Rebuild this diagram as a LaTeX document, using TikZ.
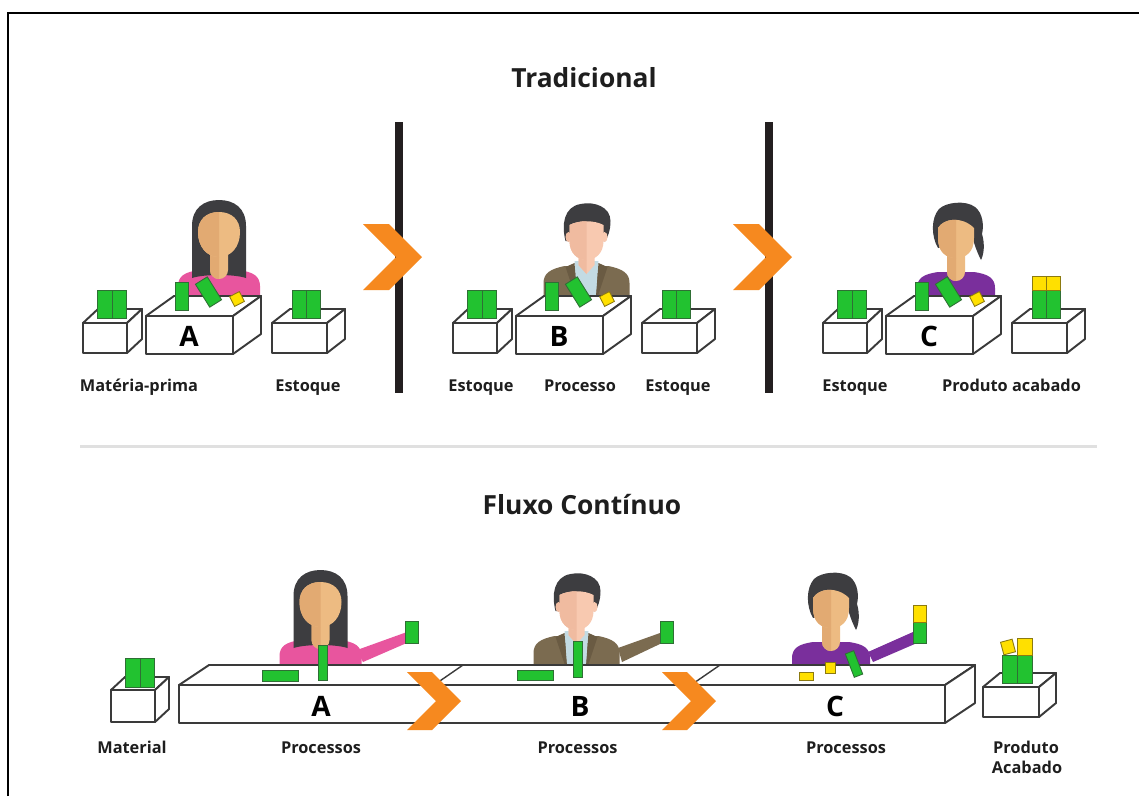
\documentclass[tikz,border=0pt]{standalone}
\usepackage{fontspec}
\setmainfont{Open Sans}

\definecolor{ink}{HTML}{1E1E1E}
\definecolor{edge}{HTML}{3A3A3A}
\definecolor{grn}{HTML}{22C230}
\definecolor{grnb}{HTML}{2F6F35}
\definecolor{ylw}{HTML}{FFE000}
\definecolor{ylwb}{HTML}{8C7A10}
\definecolor{orng}{HTML}{F6891F}
\definecolor{barc}{HTML}{231F20}
\definecolor{sepc}{HTML}{E0E0E0}
\definecolor{hair}{HTML}{3D3D40}
\definecolor{skinL}{HTML}{EDBB82}
\definecolor{skinD}{HTML}{E2AA72}
\definecolor{mskinL}{HTML}{F8C9B0}
\definecolor{mskinD}{HTML}{F0BBA0}
\definecolor{pinkc}{HTML}{E8559E}
\definecolor{purp}{HTML}{7A2F9C}
\definecolor{jacket}{HTML}{7B6B50}
\definecolor{lapel}{HTML}{6A5B43}
\definecolor{shirt}{HTML}{C3DBE3}

% face / neck outlines, relative to the top of the head
\newcommand\wfacepath{(0,12) .. controls (13,12) and (21,20) .. (21,32) .. controls (21,47) and (12,57) .. (0,57) .. controls (-12,57) and (-21,47) .. (-21,32) .. controls (-21,20) and (-13,12) .. (0,12) -- cycle}
\newcommand\mfacepath{(-17,22) .. controls (-8,17) and (8,17) .. (17,22) -- (17,38) .. controls (17,50) and (9,57) .. (0,57) .. controls (-9,57) and (-17,50) .. (-17,38) -- cycle}
\newcommand\bfacepath{(-18,26) .. controls (-12,16) and (6,14) .. (18,26) -- (18,36) .. controls (18,50) and (10,56) .. (0,56) .. controls (-10,56) and (-18,50) .. (-18,36) -- cycle}
\newcommand\wneck{(-9,40) -- (9,40) -- (9,70) .. controls (9,75) and (5,79) .. (0,79) .. controls (-5,79) and (-9,75) .. (-9,70) -- cycle}
\newcommand\mneck{(-8,44) -- (8,44) -- (8,62) -- (0,71) -- (-8,62) -- cycle}

% fill a path in a light tone, its left half in a darker tone
\newcommand\twotone[3]{%
  \fill[#2] #1;
  \begin{scope}\clip (-50,-10) rectangle (0,130); \fill[#3] #1; \end{scope}}

% woman with long hair: x, y (top of head), shirt colour
\newcommand\womanlong[3]{%
  \begin{scope}[shift={(#1,#2)}]
    \fill[#3] (-41,110) -- (-41,86) .. controls (-41,76) and (-34,72) .. (-20,70) -- (20,70) .. controls (34,72) and (41,76) .. (41,86) -- (41,110) -- cycle;
    \fill[hair] (-27,78) -- (-27,26) .. controls (-27,8) and (-15,0) .. (0,0) .. controls (15,0) and (27,8) .. (27,26) -- (27,78) .. controls (15,74) and (-15,74) .. cycle;
    \twotone{\wneck}{skinL}{skinD}
    \twotone{\wfacepath}{skinL}{skinD}
  \end{scope}}

% man in a jacket: x, y (top of head)
\newcommand\manfig[2]{%
  \begin{scope}[shift={(#1,#2)}]
    \fill[jacket] (-43,105) -- (-43,80) .. controls (-43,70) and (-36,66) .. (-22,63) -- (22,63) .. controls (36,66) and (43,70) .. (43,80) -- (43,105) -- cycle;
    \fill[shirt] (-12,58) -- (12,58) -- (9,105) -- (-9,105) -- cycle;
    \fill[lapel] (-12,60) -- (-21,64) -- (-9,100) -- cycle;
    \fill[lapel] (12,60) -- (21,64) -- (9,100) -- cycle;
    \twotone{\mneck}{mskinL}{mskinD}
    \fill[hair] (-21,38) .. controls (-25,22) and (-23,4) .. (-6,1) .. controls (8,-2) and (24,4) .. (24,18) .. controls (24,28) and (21,34) .. (19,38) -- cycle;
    \fill[mskinD] (-18,34) ellipse [x radius=3, y radius=5];
    \fill[mskinL] (18,34) ellipse [x radius=3, y radius=5];
    \twotone{\mfacepath}{mskinL}{mskinD}
  \end{scope}}

% woman with tied-back hair: x, y (top of head), shirt colour
\newcommand\womanbun[3]{%
  \begin{scope}[shift={(#1,#2)}]
    \fill[#3] (-39,110) -- (-39,86) .. controls (-39,76) and (-32,72) .. (-18,70) -- (18,70) .. controls (32,72) and (39,76) .. (39,86) -- (39,110) -- cycle;
    \fill[hair] (-18,46) .. controls (-25,34) and (-25,16) .. (-17,7) .. controls (-10,0) and (10,-2) .. (19,5) .. controls (27,11) and (28,24) .. (26,32) .. controls (29,42) and (28,52) .. (25,58) .. controls (21,50) and (18,42) .. (17,36) -- cycle;
    \twotone{\wneck}{skinL}{skinD}
    \twotone{\bfacepath}{skinL}{skinD}
  \end{scope}}

% open box: front rectangle corners, depth offset
\newcommand\isobox[6]{%
  \draw[boxline] (#1,#2) -- ({#1+#5},{#2-#6}) -- ({#3+#5},{#2-#6}) -- (#3,#2) -- cycle;
  \draw[boxline] (#3,#2) -- ({#3+#5},{#2-#6}) -- ({#3+#5},{#4-#6}) -- (#3,#4) -- cycle;
  \draw[boxline] (#1,#2) rectangle (#3,#4);}

% flow chevron: left x, top y, height, arm width
\newcommand\chevshape[4]{%
  \fill[orng] (#1,#2) -- ({#1+#4},#2) -- ({#1+#4+#3/2},{#2+#3/2}) -- ({#1+#4},{#2+#3}) -- (#1,{#2+#3}) -- ({#1+#3/2},{#2+#3/2}) -- cycle;}

% one station of the traditional line (boxes and parts)
\newcommand\station[1]{%
  \isobox{83}{323}{127}{353}{15}{14}
  \isobox{146}{316}{233}{354}{28}{20}
  \isobox{272}{323}{327}{353}{18}{14}
  \draw[gblock] (97,290) rectangle (112,318);
  \draw[gblock] (112,290) rectangle (126,318);
  \draw[gblock] (175,282) rectangle (188,310);
  \draw[gblock, rotate around={32:(208.5,292)}] (201.5,278.5) rectangle (215.5,305.5);
  \draw[yblock, rotate around={27:(237,299)}] (231.5,293.5) rectangle (242.5,304.5);
  \node[letter] (st#1) at (189,346.5) {#1};}

\begin{document}
\begin{tikzpicture}[x=0.02cm,y=-0.02cm,
  boxline/.style={draw=edge,line width=1.1pt,fill=white,line join=round},
  gblock/.style={fill=grn,draw=grnb,line width=0.5pt},
  yblock/.style={fill=ylw,draw=ylwb,line width=0.5pt},
  lbl/.style={font=\fontsize{9.3}{11}\selectfont\bfseries,text=ink,inner sep=0pt,anchor=base},
  ttl/.style={font=\fontsize{15}{18}\selectfont\bfseries,text=ink,inner sep=0pt,anchor=base},
  letter/.style={font=\fontsize{16}{18}\selectfont\bfseries,text=black,inner sep=0pt,anchor=base}]
\useasboundingbox (0,0) rectangle (1139,796);
\fill[white] (0,0) rectangle (1139,796);

% frame
\draw[black, line width=1.5pt] (8,796) -- (8,13) -- (1139,13);

% ---------- traditional layout ----------
\node[ttl] (title1) at (584,87) {Tradicional};

\draw[barc, line width=4.2pt] (399,122) -- (399,393);
\draw[barc, line width=4.2pt] (769,122) -- (769,393);

\womanlong{219}{200}{pinkc}
\manfig{586.5}{203}
\womanbun{956}{202}{purp}

\begin{scope}\station{A}\end{scope}
\begin{scope}[shift={(370,0)}]\station{B}
  \draw[gblock] (292,290) rectangle (306,318);
  \draw[gblock] (306,290) rectangle (320,318);
\end{scope}
\begin{scope}[shift={(740,0)}]\station{C}
  \draw[gblock] (292,290) rectangle (306,318);
  \draw[gblock] (306,290) rectangle (320,318);
  \draw[yblock] (292,276) rectangle (306,290);
  \draw[yblock] (306,276) rectangle (320,290);
\end{scope}
\draw[gblock] (292,290) rectangle (306,318);
\draw[gblock] (306,290) rectangle (320,318);

\chevshape{363}{224}{66}{26}
\chevshape{733}{224}{66}{26}

\node[lbl] (t1) at (139,391.5) {Matéria-prima};
\node[lbl] (t2) at (308,391.5) {Estoque};
\node[lbl] (t3) at (481,391.5) {Estoque};
\node[lbl] (t4) at (580,391.5) {Processo};
\node[lbl] (t5) at (678,391.5) {Estoque};
\node[lbl] (t6) at (855,391.5) {Estoque};
\node[lbl] (t7) at (1011.5,391.5) {Produto acabado};

% separator
\draw[sepc, line width=1.7pt] (80,446) -- (1097,446);

% ---------- continuous flow ----------
\node[ttl] (title2) at (582,514) {Fluxo Contínuo};

\womanlong{320.5}{570}{pinkc}
\fill[pinkc] (357,650) -- (407,632) -- (409,642) -- (363,662) -- cycle;
\draw[gblock] (405,621) rectangle (418,643);

\manfig{576.5}{573}
\fill[jacket] (618,648) -- (660,633) -- (662,643) -- (622,662) -- cycle;
\draw[gblock] (660,621) rectangle (673,643);

\womanbun{831}{572}{purp}
\fill[purp] (868,652) -- (913,632) -- (917,643) -- (873,662) -- cycle;
\draw[gblock] (913,622) rectangle (926,643);
\draw[yblock] (913,605) rectangle (926,622);

% material box
\isobox{111}{690}{155}{722}{14}{13}
\draw[gblock] (125,658) rectangle (140,687);
\draw[gblock] (140,658) rectangle (154,687);

% conveyor
\isobox{179}{685}{945}{723}{30}{20}
\draw[edge, line width=0.8pt] (463,665) -- (434,685);
\draw[edge, line width=0.8pt] (720,665) -- (691,685);

% parts on the conveyor
\draw[gblock] (262,670) rectangle (298,681);
\draw[gblock] (318,645) rectangle (327,680);
\draw[gblock] (517,670) rectangle (553,680);
\draw[gblock] (573,641) rectangle (582,677);
\draw[yblock] (799,672) rectangle (813,680);
\draw[yblock] (825,662) rectangle (835,673);
\draw[gblock, rotate around={21:(854,664)}] (849.5,651.5) rectangle (858.5,676.5);

% finished product box
\isobox{983}{687}{1039}{717}{17}{14}
\draw[gblock] (1002,655) rectangle (1017,683);
\draw[gblock] (1017,655) rectangle (1032,683);
\draw[yblock] (1017,638) rectangle (1032,655);
\draw[yblock, rotate around={15:(1008,647)}] (1002,640.5) rectangle (1014,653.5);

\chevshape{407}{672}{58}{25}
\chevshape{662}{672}{58}{25}

\node[letter] (fa) at (321,716.5) {A};
\node[letter] (fb) at (580,716.5) {B};
\node[letter] (fc) at (835,716.5) {C};

\node[lbl] (b1) at (132,753) {Material};
\node[lbl] (b2) at (321,753) {Processos};
\node[lbl] (b3) at (577.5,753) {Processos};
\node[lbl] (b4) at (846,753) {Processos};
\node[lbl] (b5) at (1026,753) {Produto};
\node[lbl] (b6) at (1027,773.5) {Acabado};
\end{tikzpicture}
\end{document}
